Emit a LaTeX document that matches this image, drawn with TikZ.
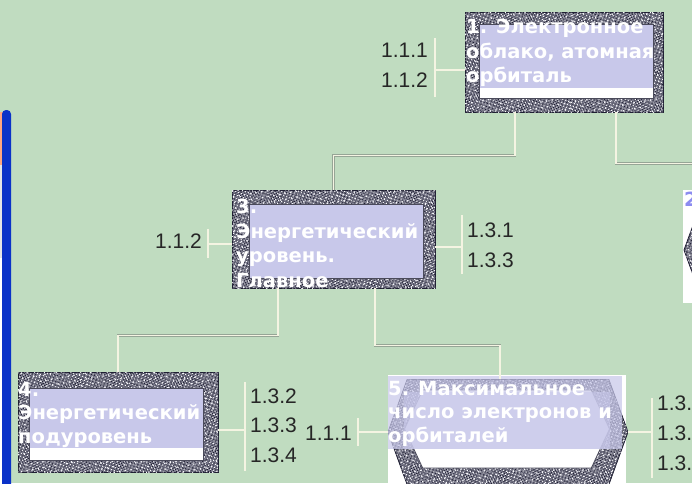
\documentclass[tikz,border=0pt]{standalone}
\usepackage{fontspec}
\setmainfont{Liberation Sans}
\newfontfamily\boxfont{DejaVu Sans}
\usetikzlibrary{patterns.meta,shapes.symbols}
\definecolor{bgc}{RGB}{192,220,192}
\definecolor{lav}{RGB}{200,200,234}
\definecolor{bgray}{RGB}{125,125,142}
\definecolor{bdark}{RGB}{30,30,50}
\definecolor{cream}{RGB}{244,244,226}
\definecolor{lshade}{RGB}{150,165,150}
\definecolor{xpblue}{RGB}{10,50,200}
\tikzset{
  texbox/.style={fill=bgray, draw=bdark, line width=0.8pt,
    postaction={pattern={Dots[distance=2.3pt,radius=0.7pt,angle=30]}, pattern color=bdark},
    postaction={pattern={Dots[distance=4.3pt,radius=1.0pt,angle=65,xshift=0.7pt]}, pattern color=bdark!80},
    postaction={pattern={Dots[distance=3.1pt,radius=0.65pt,angle=-20,xshift=1.2pt,yshift=0.8pt]}, pattern color=white},
    postaction={pattern={Dots[distance=5.7pt,radius=0.9pt,angle=10,yshift=2pt]}, pattern color=white!85!lav}},
  inbox/.style={draw=bdark!80, line width=0.8pt},
  conn/.style={draw=lshade, double=cream, double distance=1.3pt, line width=0.45pt},
  btxt/.style={font=\boxfont\bfseries\fontsize{19.5}{24.5}\selectfont, text=white, align=left, inner sep=0pt, anchor=north west},
  btxtb/.style={btxt, font=\boxfont\bfseries\fontsize{19.5}{23.5}\selectfont},
  lab/.style={font=\fontsize{21}{25}\selectfont, text=black!85, inner sep=0pt, anchor=west},
  hexa/.style={signal, signal to=west and east, inner sep=0pt},
}
\begin{document}
\begin{tikzpicture}[x=1pt,y=-1pt]
\useasboundingbox (0,0) rectangle (692,483);
\clip (0,0) rectangle (692,483);
\fill[bgc] (0,0) rectangle (692,483);
% left window edge
\fill[white] (0,258) rectangle (3,483);
\fill[gray!20] (0,165) rectangle (3,258);
\fill[red!40!orange!50] (0,112) rectangle (3,165);
\fill[xpblue, rounded corners=4pt] (2,110) rectangle (11,520);

% node 1
\node[texbox, minimum width=198pt, minimum height=100pt, inner sep=0pt] (n1) at (564,62) {};
\fill[white, inbox] ([xshift=15pt,yshift=-13pt]n1.north west) rectangle ([xshift=-10pt,yshift=14pt]n1.south east);
\fill[lav] ([xshift=15.4pt,yshift=-13.4pt]n1.north west) rectangle ([xshift=-10.4pt,yshift=24pt]n1.south east);
\node[btxt] (t1) at (466,19) {1. Электронное\\облако, атомная\\орбиталь};

% node 2 (cut off at the right)
\fill[white] (683,190) rectangle (700,303);
\node[texbox, hexa, signal pointer angle=140, minimum width=232pt, minimum height=100pt] (n2) at (800,250) {};
\node[btxt, text=lav!70!blue] (t2) at (684,192) {2.};

% node 3
\node[texbox, minimum width=203pt, minimum height=98pt, inner sep=0pt] (n3) at (333.5,239) {};
\fill[lav, inbox] ([xshift=18pt,yshift=-15pt]n3.north west) rectangle ([xshift=-12pt,yshift=10pt]n3.south east);
\node[btxt] (t3) at (236,199) {3.\\Энергетический\\уровень.\\Главное};

% node 4
\node[texbox, minimum width=200pt, minimum height=100pt, inner sep=0pt] (n4) at (118,422) {};
\fill[white, inbox] ([xshift=12pt,yshift=-17pt]n4.north west) rectangle ([xshift=-15pt,yshift=12pt]n4.south east);
\fill[lav] ([xshift=12.4pt,yshift=-17.4pt]n4.north west) rectangle ([xshift=-15.4pt,yshift=24pt]n4.south east);
\node[btxtb] (t4) at (18,382) {4.\\Энергетический\\подуровень};

% node 5
\fill[white] (388,375) rectangle (626,483);
\node[texbox, hexa, signal pointer angle=140, minimum width=240pt, minimum height=105pt] (n5) at (508,432) {};
\node[hexa, signal pointer angle=130, minimum width=205pt, minimum height=78pt, fill=white, inbox] (n5i) at (507,429) {};
\fill[lav, opacity=0.72] (388,376) rectangle (622,449);
\fill[lav, opacity=0.6] (n5i.west |- 0,392) rectangle (n5i.east |- 0,449);
\node[btxtb] (t5) at (388,381) {5. Максимальное\\число электронов и\\орбиталей};

% connectors
\draw[conn] ([xshift=-49pt]n1.south) -- ++(0,43) -| (n3.north);
\draw[conn] ([xshift=52pt]n1.south) -- ++(0,51) -| (n2.north);
\draw[conn] ([xshift=-55.5pt]n3.south) -- ++(0,47) -| (n4.north);
\draw[conn] ([xshift=41.5pt]n3.south) -- ++(0,57) -| ([xshift=-8pt]n5.north);

% labels of node 1
\node[lab] (l1a) at (381,50) {1.1.1};
\node[lab] (l1b) at (381,80) {1.1.2};
\coordinate (b1) at (435,70);
\coordinate (b1t) at (435,38);
\coordinate (b1b) at (435,97);
\draw[conn] (b1t) -- (b1b);
\draw[conn] (b1 -| n1.west) -- (b1);

% labels of node 3
\node[lab] (l3a) at (155,241) {1.1.2};
\coordinate (b3l) at (208,244);
\coordinate (b3lt) at (208,229);
\coordinate (b3lb) at (208,258);
\draw[conn] (b3lt) -- (b3lb);
\draw[conn] (b3l -| n3.west) -- (b3l);
\node[lab] (l3b) at (467,230) {1.3.1};
\node[lab] (l3c) at (467,260) {1.3.3};
\coordinate (b3r) at (462,247);
\coordinate (b3rt) at (462,215);
\coordinate (b3rb) at (462,274);
\draw[conn] (b3rt) -- (b3rb);
\draw[conn] (b3r -| n3.east) -- (b3r);

% labels of node 4
\node[lab] (l4a) at (250,396) {1.3.2};
\node[lab] (l4b) at (250,425) {1.3.3};
\node[lab] (l4c) at (250,455) {1.3.4};
\coordinate (b4) at (245,430);
\coordinate (b4t) at (245,382);
\coordinate (b4b) at (245,471);
\draw[conn] (b4t) -- (b4b);
\draw[conn] (b4 -| n4.east) -- (b4);

% labels of node 5
\node[lab] (l5a) at (305,433) {1.1.1};
\coordinate (b5l) at (358,432);
\coordinate (b5lt) at (358,418);
\coordinate (b5lb) at (358,446);
\draw[conn] (b5lt) -- (b5lb);
\draw[conn] (n5.west) -- (b5l);
\node[lab] (l5b) at (657,403) {1.3.};
\node[lab] (l5c) at (657,433) {1.3.};
\node[lab] (l5d) at (657,463) {1.3.};
\coordinate (b5r) at (652,432);
\coordinate (b5rt) at (652,398);
\coordinate (b5rb) at (652,478);
\draw[conn] (b5rt) -- (b5rb);
\draw[conn] (n5.east) -- (b5r);
\end{tikzpicture}
\end{document}
